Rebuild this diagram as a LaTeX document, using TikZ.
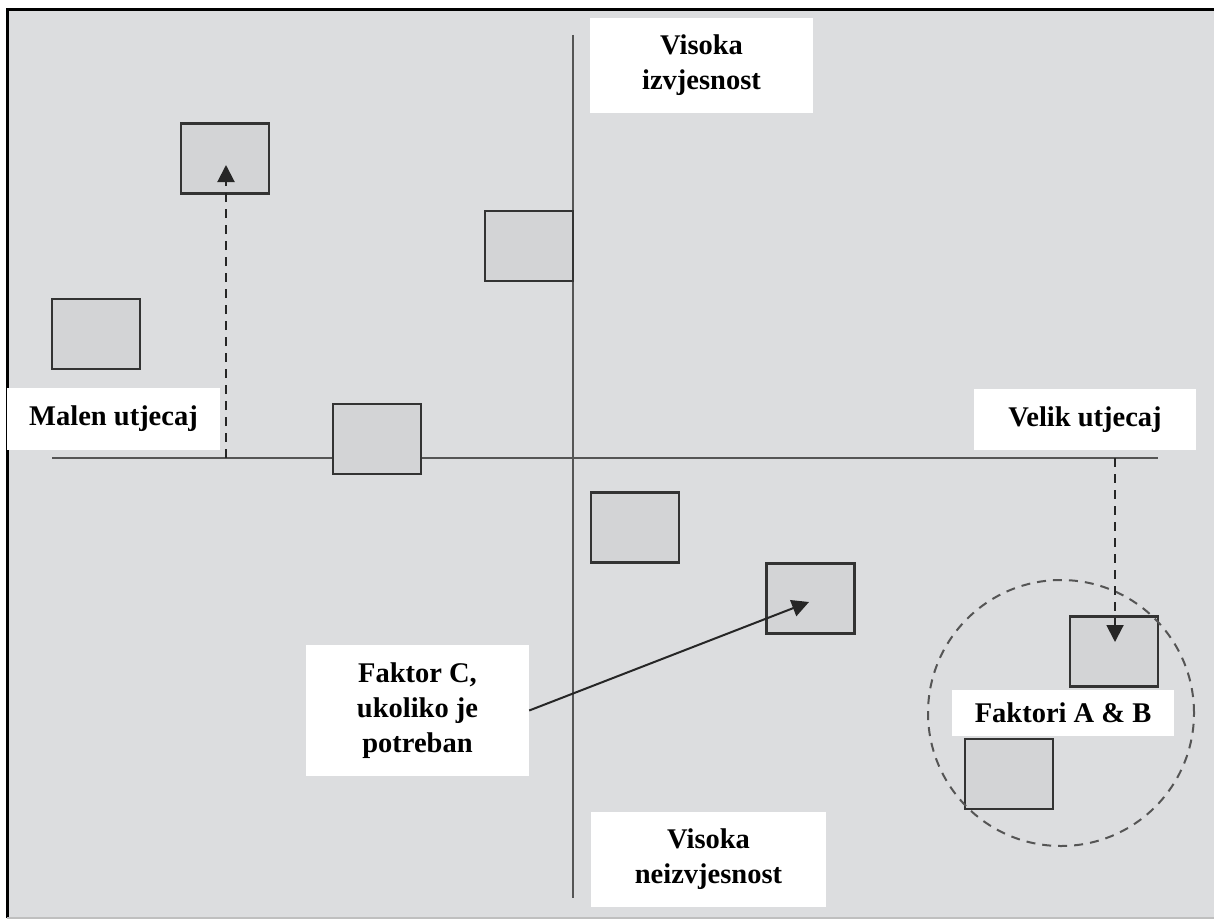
\documentclass[tikz,border=0pt]{standalone}
\usepackage{fontspec}
\setmainfont{Liberation Serif}
\usetikzlibrary{arrows.meta}
\definecolor{pozadina}{HTML}{DCDDDF}
\definecolor{kutija}{HTML}{D3D4D6}
\definecolor{linija}{HTML}{555555}
\tikzset{
  faktor/.style={draw=black!80, line width=2.4pt, fill=kutija, minimum width=88pt, minimum height=70pt, inner sep=0pt},
  oznaka/.style={fill=white, inner sep=0pt, align=center, font=\bfseries\fontsize{28.5}{35}\selectfont},
  os/.style={draw=linija, line width=2.6pt},
  strelica/.style={-{Triangle[length=17pt,width=17pt]}, line width=2pt, draw=black!85},
  crtkano/.style={dash pattern=on 9pt off 7pt},
}
\begin{document}
\begin{tikzpicture}[x=1pt,y=-1pt]
    \useasboundingbox (0,0) rectangle (1214,920);
    % okvir
    \fill [pozadina] (7,9) rectangle (1214,918);
    \draw [black, line width=3pt] (7,918) -- (7,10) -- (1214,10);
    \draw [black!25, line width=2pt] (7,918) -- (1214,918);
    % osi
    \coordinate (xl) at (52,458);
    \coordinate (xr) at (1158,458);
    \coordinate (yt) at (573,35);
    \coordinate (yb) at (573,898);
    \draw [os] (xl) -- (xr);
    \draw [os] (yt) -- (yb);
    % faktori
    \node [faktor] (a) at (225,158.5) {};
    \node [faktor] (b) at (96,334) {};
    \node [faktor] (c) at (529,246) {};
    \node [faktor] (d) at (377,439) {};
    \node [faktor] (e) at (635,527.5) {};
    \node [faktor] (f) at (810.5,598.5) {};
    \node [faktor] (g) at (1114,651.5) {};
    \node [faktor] (h) at (1009,774) {};
    \node [draw=linija, line width=2pt, crtkano, circle, minimum size=266pt] (krug) at (1061,713) {};
    % oznake
    \node [oznaka, minimum width=223pt, minimum height=95pt] (vi) at (701.5,65.5) {Visoka\\izvjesnost};
    \node [oznaka, minimum width=213pt, minimum height=62pt] (mu) at (113.5,419) {Malen utjecaj};
    \node [oznaka, minimum width=222pt, minimum height=61pt] (vu) at (1085,419.5) {Velik utjecaj};
    \node [oznaka, minimum width=222pt, minimum height=46pt] (ab) at (1063,713) {Faktori A \& B};
    \node [oznaka, minimum width=235pt, minimum height=95pt] (vn) at (708.5,859.5) {Visoka\\neizvjesnost};
    \node [oznaka, minimum width=223pt, minimum height=131pt] (fc) at (417.5,710.5) {Faktor C,\\ukoliko je\\potreban};
    % strelice
    \coordinate (p1) at (226,458);
    \coordinate (k1) at (226,165);
    \coordinate (p2) at (1115,458);
    \coordinate (k2) at (1115,642);
    \coordinate (k3) at (809,602);
    \draw [strelica, crtkano] (p1) -- (k1);
    \draw [strelica, crtkano] (p2) -- (k2);
    \draw [strelica] (fc.east) -- (k3);
\end{tikzpicture}
\end{document}
